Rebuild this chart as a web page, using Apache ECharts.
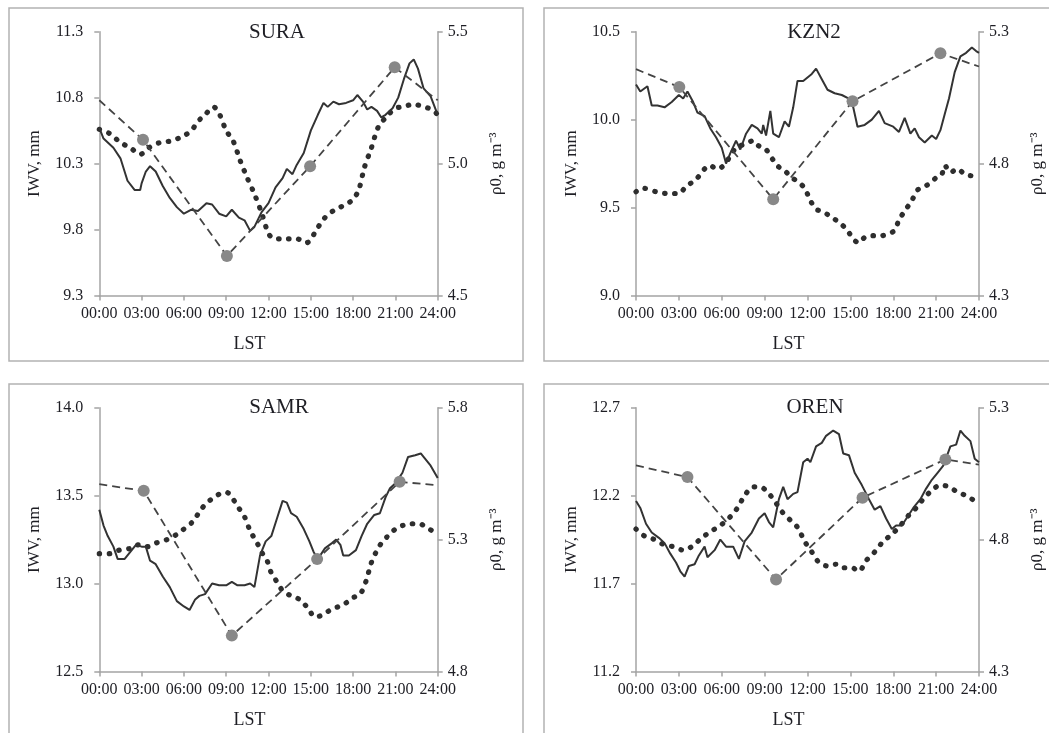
<!DOCTYPE html>
<html>
<head>
<meta charset="utf-8">
<script src="https://cdn.jsdelivr.net/npm/echarts@6/dist/echarts.min.js"></script>
<style>
  html, body { margin: 0; padding: 0; background: #fff; }
  #chart { width: 1049px; height: 733px; }
</style>
</head>
<body>
<div id="chart"></div>
<script>
// Station names
const stations = ['SURA', 'KZN2', 'SAMR', 'OREN'];

// IWV, mm (solid line) — [hour LST, value]
const suraIwv = [[0,10.57],[0.3,10.49],[1,10.42],[1.5,10.34],[2,10.17],[2.5,10.10],[2.9,10.10],[3,10.15],[3.3,10.24],[3.6,10.28],[4,10.24],[4.5,10.13],[5,10.04],[5.5,9.97],[6,9.92],[6.5,9.95],[7,9.94],[7.6,10.00],[8,9.99],[8.5,9.92],[9,9.90],[9.4,9.95],[9.9,9.89],[10.3,9.87],[10.7,9.79],[11,9.82],[11.5,9.93],[12,10.00],[12.5,10.12],[13,10.19],[13.3,10.26],[13.7,10.22],[14,10.29],[14.5,10.38],[15,10.55],[15.5,10.67],[15.9,10.76],[16.2,10.73],[16.6,10.77],[17,10.75],[17.5,10.76],[18,10.78],[18.3,10.82],[18.7,10.77],[19,10.71],[19.3,10.73],[19.7,10.70],[20,10.65],[20.3,10.67],[20.8,10.72],[21.2,10.80],[21.6,10.94],[22,11.06],[22.3,11.09],[22.6,11.02],[23,10.87],[23.5,10.81],[24,10.67]];
const kzn2Iwv = [[0,10.20],[0.3,10.16],[0.8,10.19],[1.1,10.08],[1.5,10.08],[2,10.07],[2.5,10.10],[3,10.14],[3.3,10.12],[3.6,10.16],[4,10.10],[4.3,10.04],[4.8,10.02],[5.2,9.95],[5.6,9.90],[6,9.84],[6.3,9.75],[6.6,9.81],[7,9.88],[7.3,9.83],[7.7,9.92],[8.1,9.97],[8.5,9.95],[8.8,9.92],[8.9,9.97],[9.1,9.91],[9.4,10.05],[9.6,9.92],[10,9.90],[10.4,9.99],[10.7,9.96],[11,10.07],[11.3,10.22],[11.7,10.22],[12,10.24],[12.3,10.26],[12.6,10.29],[13,10.23],[13.4,10.17],[13.9,10.15],[14.4,10.14],[14.9,10.12],[15.2,10.07],[15.5,9.96],[16,9.97],[16.5,10.00],[17,10.05],[17.4,9.98],[18,9.96],[18.4,9.93],[18.8,10.01],[19.2,9.92],[19.5,9.95],[19.8,9.90],[20.2,9.87],[20.7,9.91],[21,9.89],[21.3,9.94],[21.6,10.03],[21.9,10.12],[22.3,10.27],[22.7,10.36],[23.1,10.38],[23.5,10.41],[23.8,10.39],[24,10.38]];
const samrIwv = [[0,13.42],[0.3,13.33],[0.6,13.27],[1,13.21],[1.3,13.14],[1.8,13.14],[2.2,13.18],[2.6,13.22],[3,13.21],[3.3,13.21],[3.6,13.13],[4,13.11],[4.5,13.04],[5,12.98],[5.5,12.90],[6,12.87],[6.4,12.85],[6.8,12.91],[7.1,12.93],[7.5,12.94],[8,13.00],[8.5,12.99],[9,12.99],[9.4,13.01],[9.8,12.99],[10.3,12.99],[10.7,13.00],[11,12.98],[11.4,13.16],[11.8,13.24],[12.2,13.27],[12.6,13.37],[13,13.47],[13.3,13.46],[13.6,13.40],[14,13.38],[14.5,13.31],[14.9,13.24],[15.2,13.18],[15.5,13.14],[16,13.20],[16.5,13.23],[16.8,13.25],[17.1,13.22],[17.3,13.16],[17.7,13.16],[18.2,13.19],[18.6,13.27],[19,13.34],[19.5,13.39],[19.9,13.40],[20.3,13.49],[20.6,13.54],[21,13.57],[21.5,13.63],[21.9,13.72],[22.4,13.73],[22.8,13.74],[23.1,13.71],[23.5,13.67],[24,13.60]];
const orenIwv = [[0,12.17],[0.3,12.13],[0.7,12.04],[1.1,11.99],[1.6,11.96],[2,11.93],[2.4,11.87],[2.8,11.82],[3.1,11.77],[3.4,11.74],[3.7,11.80],[4.1,11.81],[4.4,11.86],[4.8,11.91],[5,11.85],[5.5,11.89],[5.9,11.95],[6.3,11.91],[6.8,11.91],[7.2,11.84],[7.6,11.94],[8.1,11.99],[8.6,12.07],[9,12.10],[9.3,12.05],[9.6,12.02],[10,12.18],[10.3,12.25],[10.6,12.18],[11,12.21],[11.3,12.22],[11.7,12.39],[12,12.41],[12.2,12.39],[12.6,12.48],[13,12.50],[13.3,12.54],[13.8,12.57],[14.2,12.55],[14.5,12.44],[14.9,12.43],[15.3,12.33],[15.8,12.26],[16.3,12.18],[16.7,12.12],[17.1,12.14],[17.5,12.07],[17.9,12.01],[18.2,12.03],[18.6,12.03],[19,12.08],[19.4,12.13],[19.9,12.18],[20.3,12.24],[20.7,12.29],[21.1,12.33],[21.5,12.37],[22,12.48],[22.4,12.49],[22.7,12.57],[23,12.54],[23.4,12.51],[23.7,12.41],[24,12.39]];

// IWV reference curve (dotted line) — [hour LST, value]
const suraRef = [[0,10.56],[0.7,10.53],[1.5,10.46],[2.2,10.42],[2.9,10.37],[3.5,10.42],[4.3,10.46],[5,10.47],[6,10.51],[6.6,10.56],[7,10.62],[7.5,10.67],[8.1,10.73],[8.5,10.68],[9,10.55],[9.5,10.47],[10,10.32],[10.5,10.19],[11,10.07],[11.5,9.93],[12,9.77],[12.4,9.73],[13,9.73],[14,9.73],[14.7,9.70],[15,9.72],[15.3,9.78],[16,9.89],[16.7,9.95],[17.5,9.99],[18,10.03],[18.4,10.10],[18.8,10.27],[19.3,10.42],[19.8,10.58],[20.5,10.67],[21,10.72],[21.5,10.73],[22.3,10.75],[23,10.73],[23.6,10.71],[24,10.67]];
const kzn2Ref = [[0,9.59],[0.5,9.61],[1.4,9.59],[2.2,9.58],[3,9.58],[3.5,9.62],[4.2,9.66],[4.8,9.72],[5.2,9.74],[5.6,9.72],[6,9.73],[6.5,9.78],[7,9.84],[7.6,9.86],[8.2,9.88],[8.6,9.85],[9.1,9.83],[9.6,9.77],[10,9.73],[10.4,9.71],[10.9,9.67],[11.3,9.65],[11.8,9.61],[12.2,9.54],[12.6,9.49],[13,9.48],[13.6,9.45],[14.3,9.41],[14.8,9.37],[15.2,9.32],[15.6,9.30],[16,9.33],[16.6,9.34],[17.2,9.34],[17.6,9.35],[18.1,9.37],[18.4,9.43],[18.8,9.48],[19.3,9.54],[19.7,9.60],[20.2,9.62],[20.6,9.64],[21,9.67],[21.4,9.69],[21.6,9.74],[22,9.70],[22.5,9.72],[23,9.69],[23.6,9.68],[24,9.68]];
const samrRef = [[0,13.17],[0.7,13.17],[1.4,13.19],[2.2,13.20],[2.7,13.22],[3.4,13.21],[4,13.23],[4.8,13.25],[5.5,13.28],[6,13.31],[6.6,13.35],[7.3,13.43],[7.8,13.47],[8.3,13.50],[9,13.52],[9.4,13.49],[9.8,13.44],[10.3,13.38],[10.7,13.30],[11.2,13.23],[11.5,13.18],[11.9,13.13],[12.2,13.06],[12.6,13.01],[13,12.96],[13.6,12.93],[14.2,12.91],[14.8,12.86],[15.3,12.81],[15.8,12.82],[16.4,12.85],[17,12.87],[17.5,12.89],[18,12.92],[18.5,12.94],[18.9,13.01],[19.3,13.12],[19.7,13.19],[20.1,13.24],[20.6,13.28],[21,13.31],[21.5,13.33],[22.1,13.34],[22.7,13.34],[23.2,13.32],[23.8,13.29]];
const orenRef = [[0,12.01],[0.6,11.97],[1.3,11.95],[2,11.92],[2.6,11.91],[3.3,11.89],[3.9,11.91],[4.6,11.96],[5.3,12.00],[5.9,12.03],[6.6,12.08],[7.1,12.13],[7.6,12.20],[8.2,12.25],[8.7,12.25],[9.2,12.22],[9.7,12.17],[10.2,12.11],[10.8,12.06],[11.3,12.02],[11.8,11.94],[12.3,11.88],[12.8,11.82],[13.4,11.80],[14,11.81],[14.5,11.79],[15.1,11.79],[15.6,11.77],[16.1,11.83],[16.7,11.88],[17.3,11.94],[17.9,11.98],[18.5,12.03],[19.1,12.09],[19.6,12.13],[20.1,12.18],[20.7,12.23],[21.3,12.26],[21.9,12.25],[22.5,12.22],[23.1,12.20],[23.7,12.17]];

// rho0, g m^-3 (dashed line, gray circles) — [hour LST, value]
const suraRho = [[0,5.24],[3.1,5.09],[9.05,4.65],[14.95,4.99],[20.95,5.365],[24,5.24]];
const kzn2Rho = [[0,5.158],[3.03,5.09],[9.6,4.665],[15.15,5.036],[21.3,5.218],[24,5.168]];
const samrRho = [[0,5.51],[3.15,5.485],[9.4,4.936],[15.45,5.226],[21.3,5.519],[24,5.506]];
const orenRho = [[0,5.081],[3.6,5.037],[9.8,4.649],[15.85,4.959],[21.65,5.104],[24,5.084]];

// Axis ranges: [min, max]
const iwvRanges = [[9.3, 11.3], [9.0, 10.5], [12.5, 14.0], [11.2, 12.7]];
const rhoRanges = [[4.5, 5.5], [4.3, 5.3], [4.8, 5.8], [4.3, 5.3]];

const iwvData = [suraIwv, kzn2Iwv, samrIwv, orenIwv];
const refData = [suraRef, kzn2Ref, samrRef, orenRef];
const rhoData = [suraRho, kzn2Rho, samrRho, orenRho];

// Layout of each panel (plot area + frame + title)
const panels = [
  { grid: [99.3, 31.7, 338.4, 263.8], frame: [9, 8, 514, 353], title: [277, 32] },
  { grid: [636, 31.7, 343, 263.8], frame: [544, 8, 520, 353], title: [814, 32] },
  { grid: [99.3, 407.7, 338.4, 263.8], frame: [9, 384, 514, 370], title: [279, 407.5] },
  { grid: [636, 407.7, 343, 263.8], frame: [544, 384, 520, 370], title: [815, 407.5] }
];

const FONT = 'Liberation Serif';
const TXT = '#1e1e24';
const AXIS = '#a4a4a4';

const chart = echarts.init(document.getElementById('chart'));

const grids = [], xAxes = [], yAxes = [], series = [], graphics = [];

panels.forEach((p, i) => {
  grids.push({ left: p.grid[0], top: p.grid[1], width: p.grid[2], height: p.grid[3], containLabel: false });

  xAxes.push({
    gridIndex: i, type: 'value', min: 0, max: 24, interval: 3,
    axisLine: { show: true, onZero: false, lineStyle: { color: AXIS, width: 1.5 } },
    axisTick: { show: true, length: 5, lineStyle: { color: AXIS, width: 1.5 } },
    splitLine: { show: false },
    axisLabel: {
      formatter: v => String(v).padStart(2, '0') + ':00',
      fontFamily: FONT, fontSize: 16, color: TXT, margin: 10
    },
    name: 'LST', nameLocation: 'middle', nameGap: 40,
    nameTextStyle: { fontFamily: FONT, fontSize: 18, color: TXT, padding: [0, 38, 0, 0] }
  });

  const common = {
    gridIndex: i, type: 'value', interval: 0.5,
    axisLine: { show: true, lineStyle: { color: AXIS, width: 1.5 } },
    axisTick: { show: true, length: 5, lineStyle: { color: AXIS, width: 1.5 } },
    splitLine: { show: false },
    nameLocation: 'middle'
  };
  yAxes.push(Object.assign({}, common, {
    position: 'left', min: iwvRanges[i][0], max: iwvRanges[i][1],
    axisLabel: { formatter: v => v.toFixed(1), fontFamily: FONT, fontSize: 16, color: TXT, margin: 16 },
    name: 'IWV, mm', nameGap: 56,
    nameTextStyle: { fontFamily: FONT, fontSize: 17, color: TXT }
  }));
  yAxes.push(Object.assign({}, common, {
    position: 'right', min: rhoRanges[i][0], max: rhoRanges[i][1],
    axisLabel: { formatter: v => v.toFixed(1), fontFamily: FONT, fontSize: 16, color: TXT, margin: 10 },
    name: 'ρ0, g m⁻³', nameGap: 50,
    nameTextStyle: { fontFamily: FONT, fontSize: 17, color: TXT }
  }));

  // dotted reference curve
  series.push({
    type: 'line', xAxisIndex: i, yAxisIndex: 2 * i, data: refData[i],
    symbol: 'none', smooth: 0.3, z: 2,
    lineStyle: { color: '#2e2e2e', width: 5.2, type: [0.5, 9.5], cap: 'round' }
  });
  // solid IWV
  series.push({
    type: 'line', xAxisIndex: i, yAxisIndex: 2 * i, data: iwvData[i],
    symbol: 'none', z: 3,
    lineStyle: { color: '#333333', width: 2 }
  });
  // dashed rho0 with markers
  const rho = rhoData[i];
  series.push({
    type: 'line', xAxisIndex: i, yAxisIndex: 2 * i + 1,
    data: rho.map((d, k) => (k === 0 || k === rho.length - 1) ? { value: d, symbol: 'none' } : d),
    symbol: 'circle', symbolSize: 12, z: 4,
    itemStyle: { color: '#888888' },
    lineStyle: { color: '#444444', width: 1.8, type: [8, 5] }
  });

  graphics.push({
    type: 'rect', silent: true,
    shape: { x: p.frame[0], y: p.frame[1], width: p.frame[2], height: p.frame[3] },
    style: { fill: 'none', stroke: '#b2b2b2', lineWidth: 1.5 }
  });
  graphics.push({
    type: 'text', silent: true, x: p.title[0], y: p.title[1],
    style: { text: stations[i], font: '21px "Liberation Serif"', fill: TXT, align: 'center', verticalAlign: 'middle' }
  });
});

chart.setOption({
  animation: false,
  backgroundColor: '#fff',
  grid: grids,
  xAxis: xAxes,
  yAxis: yAxes,
  series: series,
  graphic: graphics
});
</script>
</body>
</html>
